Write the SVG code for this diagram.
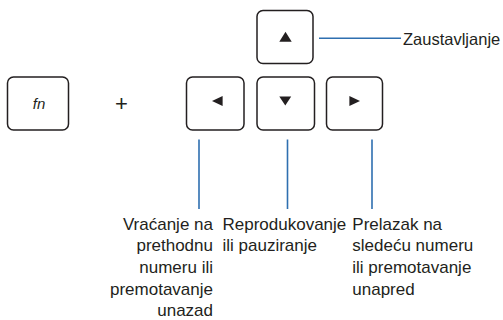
<svg xmlns="http://www.w3.org/2000/svg" width="503" height="320" viewBox="0 0 503 320">
<style>
.key{fill:#fff;stroke:#231f20;stroke-width:1.5}
.tri{fill:#231f20}
.ln{stroke:#2e6fb0;stroke-width:1.6;fill:none}
text{font-family:"Liberation Sans",Arial,sans-serif;font-size:17px;fill:#231f20}
</style>
<rect width="503" height="320" fill="#fff"/>
<g id="key-fn">
<rect class="key" x="7.5" y="77" width="61" height="53" rx="6"/>
<text x="39" y="109" text-anchor="middle" font-style="italic" style="font-size:15px">fn</text>
</g>
<g id="plus"><text x="121.5" y="111" text-anchor="middle" style="font-size:22px">+</text></g>
<g id="key-up">
<rect class="key" x="257" y="10.5" width="56" height="53" rx="6"/>
<polygon class="tri" points="285.5,31.7 279.3,41.7 291.7,41.7"/>
</g>
<g id="key-left">
<rect class="key" x="186.5" y="77" width="57.5" height="53" rx="6"/>
<polygon class="tri" points="212,101 222.6,96 222.6,106"/>
</g>
<g id="key-down">
<rect class="key" x="257" y="77" width="57.5" height="53" rx="6"/>
<polygon class="tri" points="279.3,96.5 291.2,96.5 285.3,105.5"/>
</g>
<g id="key-right">
<rect class="key" x="326.5" y="77" width="56" height="53" rx="6"/>
<polygon class="tri" points="360,101 349.4,96 349.4,106"/>
</g>
<g id="connectors">
<line class="ln" x1="319" y1="38.3" x2="401" y2="38.3"/>
<line class="ln" x1="199" y1="139.5" x2="199" y2="209"/>
<line class="ln" x1="287.5" y1="139.5" x2="287.5" y2="209"/>
<line class="ln" x1="372" y1="139.5" x2="372" y2="209"/>
</g>
<g id="label-up"><text x="403" y="45" style="font-size:16.5px">Zaustavljanje</text></g>
<g id="label-left" text-anchor="end">
<text x="213" y="229.5">Vraćanje na</text>
<text x="213" y="251.2">prethodnu</text>
<text x="213" y="272.9">numeru ili</text>
<text x="213" y="294.6">premotavanje</text>
<text x="213" y="316">unazad</text>
</g>
<g id="label-down">
<text x="222.5" y="229.5">Reprodukovanje</text>
<text x="222.5" y="251.2">ili pauziranje</text>
</g>
<g id="label-right">
<text x="352.3" y="229.5">Prelazak na</text>
<text x="352.3" y="251.2">sledeću numeru</text>
<text x="352.3" y="272.9">ili premotavanje</text>
<text x="352.3" y="294.6">unapred</text>
</g>
</svg>
